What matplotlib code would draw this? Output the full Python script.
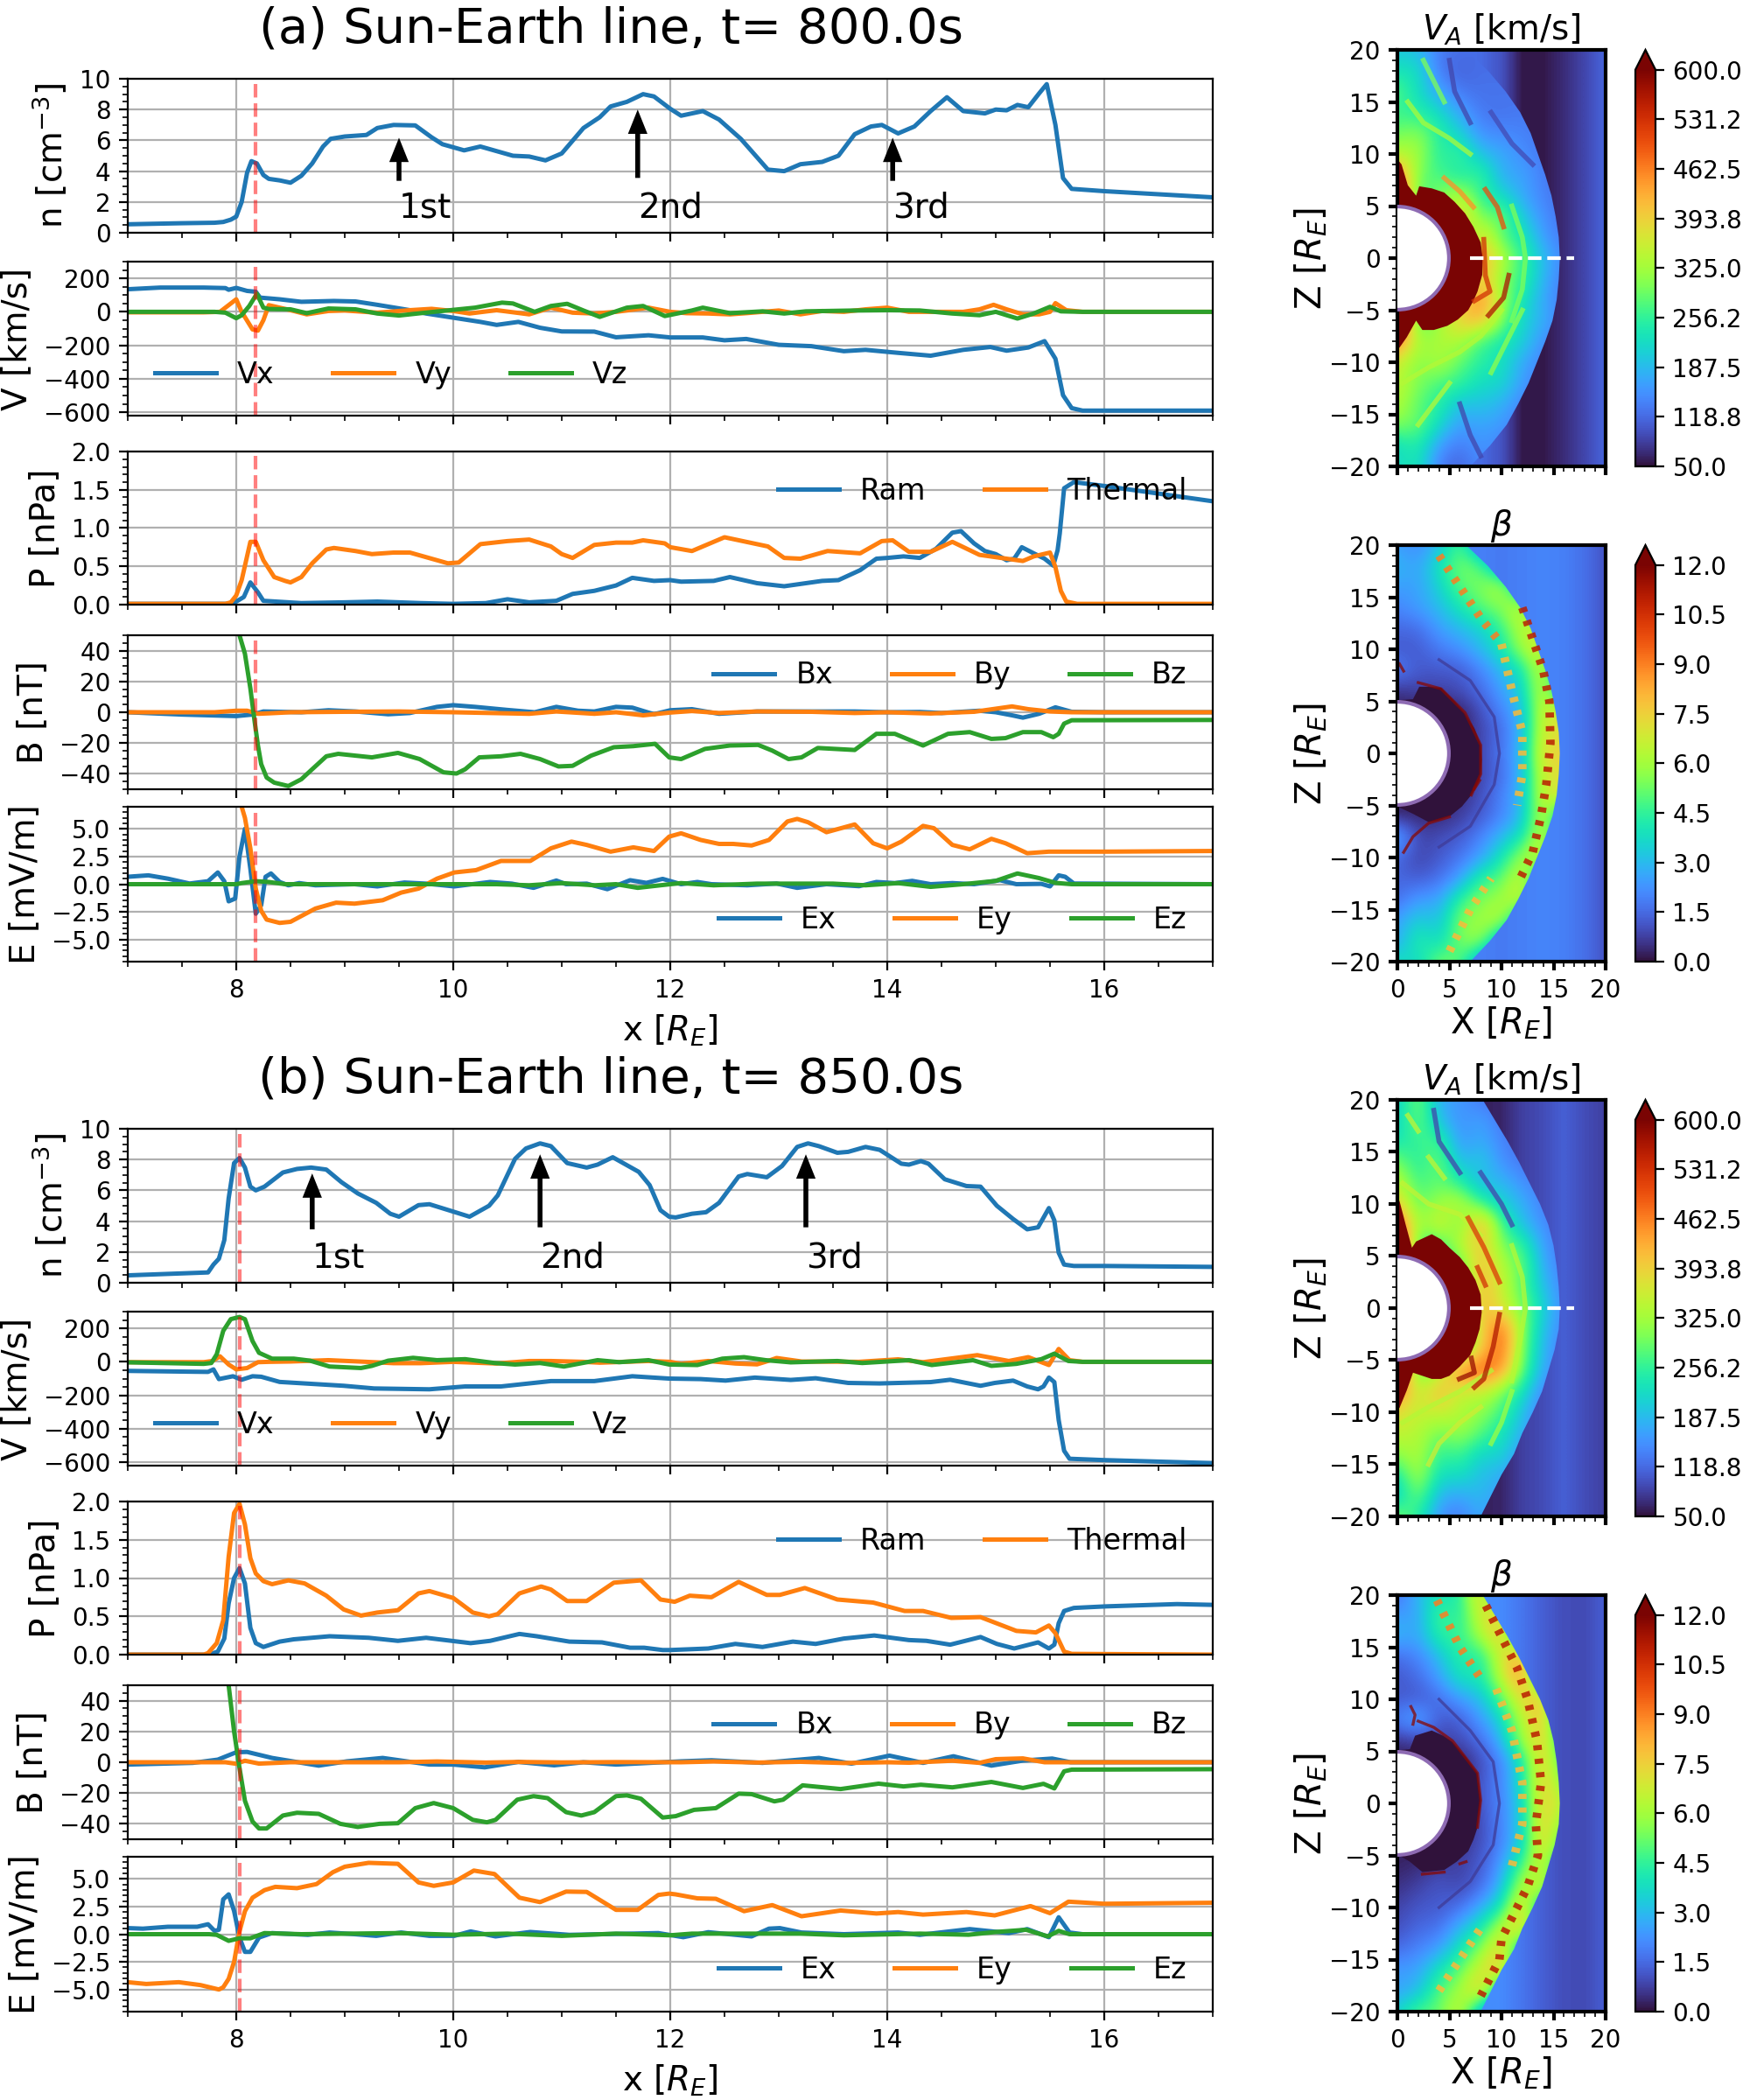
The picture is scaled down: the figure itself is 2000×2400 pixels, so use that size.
import matplotlib
matplotlib.use("Agg")
import matplotlib.pyplot as plt
from matplotlib.patches import Circle, Polygon
import numpy as np

W, H = 2000, 2400
PANEL_OFFSET = 1200

# ---- panel (a), t=800 s: (x, value) pairs
n_a = [(7,.55),(7.5,.62),(7.8,.65),(7.88,.7),(7.95,.85),(8,1.05),(8.05,2),(8.1,3.9),(8.14,4.65),(8.19,4.5),(8.25,3.75),(8.3,3.5),(8.4,3.4),(8.5,3.25),(8.6,3.7),(8.7,4.5),(8.8,5.6),(8.87,6.1),(9,6.25),(9.2,6.35),(9.3,6.8),(9.45,7),(9.65,6.97),(9.8,6.2),(9.9,5.75),(10.1,5.35),(10.25,5.6),(10.4,5.3),(10.55,5),(10.7,4.95),(10.85,4.7),(11,5.15),(11.2,6.8),(11.35,7.5),(11.45,8.2),(11.6,8.5),(11.75,9),(11.85,8.85),(12,8.05),(12.1,7.6),(12.3,7.9),(12.45,7.35),(12.65,6.1),(12.8,4.9),(12.9,4.1),(13.05,4),(13.2,4.45),(13.4,4.6),(13.55,5),(13.7,6.4),(13.85,6.9),(13.95,7),(14.1,6.45),(14.25,6.9),(14.4,7.9),(14.55,8.8),(14.7,7.9),(14.9,7.75),(15,8),(15.1,7.95),(15.2,8.3),(15.3,8.15),(15.4,9.05),(15.47,9.65),(15.55,7),(15.62,3.55),(15.7,2.85),(16,2.7),(17,2.3)]
vx_a = [(7,135),(7.3,145),(7.7,145),(7.9,142),(7.93,132),(8,143),(8.1,125),(8.18,120),(8.22,85),(8.4,75),(8.6,60),(8.9,65),(9.1,62),(9.3,42),(9.6,10),(9.75,-10),(10.1,-45),(10.25,-60),(10.4,-78),(10.6,-60),(10.8,-95),(11,-117),(11.3,-118),(11.5,-152),(11.8,-140),(12,-153),(12.3,-153),(12.5,-170),(12.7,-162),(13,-197),(13.3,-205),(13.6,-235),(13.8,-227),(14.1,-245),(14.4,-262),(14.7,-227),(14.95,-210),(15.1,-232),(15.3,-213),(15.45,-175),(15.55,-280),(15.62,-498),(15.7,-575),(15.8,-590),(17,-590)]
vy_a = [(7,-3),(7.7,-3),(7.85,0),(7.93,40),(8,75),(8.05,0),(8.15,-105),(8.2,-112),(8.25,-50),(8.3,40),(8.4,25),(8.5,10),(8.65,-15),(8.85,5),(9,8),(9.3,-5),(9.6,10),(9.8,18),(10,5),(10.15,-10),(10.4,10),(10.7,-15),(10.9,25),(11.1,-5),(11.3,-10),(11.5,0),(11.8,25),(12,0),(12.15,-8),(12.35,-10),(12.55,-15),(12.7,-8),(13,8),(13.2,-15),(13.4,5),(13.6,0),(13.8,15),(14,25),(14.2,0),(14.5,0),(14.7,0),(14.85,15),(14.98,42),(15.1,15),(15.25,-15),(15.4,-15),(15.5,0),(15.55,52),(15.65,10),(15.8,0),(17,0)]
vz_a = [(7,0),(7.8,0),(7.9,-5),(8,-38),(8.05,-20),(8.12,35),(8.19,108),(8.25,25),(8.3,17),(8.5,15),(8.65,-8),(8.85,20),(9.1,15),(9.3,-10),(9.5,-22),(9.7,-8),(10.2,25),(10.45,55),(10.55,50),(10.75,0),(10.9,35),(11.05,48),(11.2,8),(11.35,-30),(11.6,25),(11.75,35),(11.95,-25),(12.2,8),(12.3,25),(12.55,-8),(12.85,3),(13.05,-10),(13.25,3),(13.7,8),(14,10),(14.3,8),(14.6,-10),(14.85,-20),(15,0),(15.2,-40),(15.35,-10),(15.5,30),(15.6,3),(15.8,0),(17,0)]
ram_a = [(7,.01),(7.95,.01),(8,.04),(8.07,.1),(8.13,.29),(8.2,.16),(8.25,.05),(8.6,.02),(9,.03),(9.3,.04),(9.7,.02),(10,.01),(10.3,.02),(10.5,.07),(10.7,.03),(10.95,.05),(11.1,.14),(11.3,.18),(11.5,.25),(11.65,.35),(11.85,.31),(12,.32),(12.1,.3),(12.4,.31),(12.55,.36),(12.8,.28),(13.05,.24),(13.4,.31),(13.55,.32),(13.75,.45),(13.9,.6),(14,.61),(14.15,.63),(14.3,.61),(14.45,.73),(14.6,.94),(14.68,.96),(14.8,.8),(14.9,.7),(15,.66),(15.1,.58),(15.17,.6),(15.24,.75),(15.35,.67),(15.45,.6),(15.53,.51),(15.57,.71),(15.59,.93),(15.63,1.52),(15.72,1.6),(16,1.55),(17,1.35)]
thermal_a = [(7,.01),(7.9,.01),(7.95,.03),(8,.12),(8.05,.32),(8.13,.82),(8.18,.82),(8.25,.58),(8.35,.36),(8.45,.31),(8.5,.29),(8.6,.36),(8.7,.54),(8.83,.72),(8.9,.74),(9.1,.7),(9.25,.66),(9.45,.68),(9.6,.68),(9.8,.6),(9.95,.54),(10.05,.55),(10.25,.79),(10.5,.83),(10.7,.85),(10.9,.76),(11,.66),(11.1,.61),(11.3,.78),(11.5,.81),(11.65,.81),(11.75,.84),(11.95,.8),(12,.75),(12.2,.7),(12.5,.88),(12.7,.82),(12.9,.76),(13.05,.61),(13.2,.6),(13.45,.7),(13.75,.67),(13.95,.83),(14.05,.84),(14.2,.69),(14.4,.69),(14.6,.82),(14.85,.65),(15,.62),(15.25,.57),(15.35,.63),(15.5,.68),(15.55,.49),(15.6,.18),(15.65,.04),(15.75,.01),(17,.01)]
bx_a = [(7,0),(7.5,-1.5),(8,-2.5),(8.15,-1.5),(8.25,.5),(8.6,0),(8.85,1.3),(9.1,.5),(9.4,-1.3),(9.6,-.5),(9.85,3.5),(10,4.6),(10.2,3.5),(10.5,1.5),(10.75,0),(10.95,3.5),(11.15,1),(11.3,.5),(11.5,3.5),(11.65,3),(11.85,-1.3),(12,1.3),(12.2,2),(12.45,-1),(12.8,.5),(13.3,.5),(13.7,.5),(14,0),(14.3,.2),(14.5,-.5),(14.85,1),(15,0),(15.15,-2),(15.25,-3.5),(15.4,-1),(15.55,3.2),(15.7,.3),(16,0),(17,0)]
by_a = [(7,0),(7.8,0),(8,1),(8.1,1),(8.2,-1),(8.3,-.7),(8.5,0),(9,.3),(9.5,.5),(10,0),(10.7,-1),(10.95,.5),(11.3,-1),(11.5,0),(11.75,-2),(12,-.2),(12.2,.8),(12.45,-.5),(12.8,.5),(13.3,.3),(13.7,-.5),(14,0),(14.4,-.8),(14.8,.3),(15.15,3.8),(15.3,2),(15.5,.5),(15.7,0),(17,0)]
bz_a = [(8.03,50),(8.08,38),(8.13,15.5),(8.17,-6.3),(8.2,-21.6),(8.23,-33.7),(8.28,-42.4),(8.35,-45.7),(8.48,-47.9),(8.6,-43.5),(8.7,-37),(8.83,-28.6),(8.94,-27),(9.25,-29.3),(9.49,-26.4),(9.69,-30.4),(9.91,-39),(10.03,-39.8),(10.11,-37),(10.24,-29.3),(10.44,-28.6),(10.62,-27),(10.8,-30.4),(10.97,-35.2),(11.1,-34.8),(11.27,-28.2),(11.48,-22.7),(11.66,-22),(11.86,-20.5),(11.99,-29.3),(12.1,-30.4),(12.32,-23.8),(12.55,-21.6),(12.81,-21.2),(12.94,-24.9),(13.09,-30.4),(13.21,-29.3),(13.36,-23.2),(13.7,-24.5),(13.9,-14),(14.07,-14),(14.33,-21.6),(14.56,-14),(14.76,-12.9),(14.96,-17.3),(15.09,-16.8),(15.25,-12.9),(15.42,-12.9),(15.53,-16.2),(15.58,-14),(15.63,-7.4),(15.7,-5.2),(17,-5)]
ex_a = [(7,.67),(7.19,.8),(7.37,.5),(7.57,.06),(7.74,.27),(7.83,1.06),(7.89,.27),(7.93,-1.55),(7.99,-1.3),(8.03,2.5),(8.08,5),(8.13,1.4),(8.18,-2.67),(8.23,-1.9),(8.27,.67),(8.32,.97),(8.4,.2),(8.48,-.1),(8.58,.1),(8.73,-.1),(9.09,0),(9.3,-.2),(9.55,.15),(9.75,.05),(10.01,-.2),(10.34,.2),(10.54,.05),(10.74,-.33),(10.95,.33),(11.04,0),(11.23,.05),(11.42,-.45),(11.63,.36),(11.78,.12),(11.93,.48),(12.1,0),(12.25,.2),(12.38,0),(12.71,-.1),(12.98,.06),(13.17,-.33),(13.44,0),(13.74,-.18),(13.9,.2),(14.07,.1),(14.23,.3),(14.4,0),(14.6,.1),(14.8,0),(15.04,.36),(15.19,0),(15.42,.03),(15.5,-.2),(15.58,.8),(15.64,.67),(15.72,.06),(17,0)]
ey_a = [(8.05,7),(8.08,6),(8.13,3.24),(8.18,-.4),(8.23,-2.4),(8.28,-3.2),(8.4,-3.5),(8.5,-3.4),(8.73,-2.2),(8.92,-1.67),(9.09,-1.76),(9.35,-1.45),(9.52,-.76),(9.68,-.4),(9.85,.5),(10.01,1.06),(10.21,1.27),(10.44,2.1),(10.71,2.1),(10.9,3.24),(11.09,3.85),(11.23,3.55),(11.45,2.94),(11.66,3.33),(11.85,3),(11.99,4.3),(12.1,4.6),(12.28,4),(12.45,3.64),(12.58,3.64),(12.75,3.5),(12.91,4),(13.08,5.67),(13.17,5.9),(13.27,5.6),(13.44,4.7),(13.7,5.4),(13.87,3.7),(14,3.24),(14.13,3.85),(14.33,5.27),(14.43,5.06),(14.6,3.55),(14.76,3.15),(14.96,4.1),(15.09,3.7),(15.29,2.8),(15.49,2.94),(16,2.94),(17,3)]
ez_a = [(7,0),(8,0),(8.05,.1),(8.18,.27),(8.3,.2),(8.45,0),(10.4,0),(10.7,-.1),(11,.1),(11.3,-.1),(11.5,0),(11.7,-.33),(12,0),(12.1,.1),(12.4,-.1),(12.8,.05),(13.5,.05),(13.8,-.1),(14.1,.1),(14.4,-.24),(14.7,0),(15,.3),(15.2,.97),(15.4,.55),(15.55,.12),(15.7,0),(17,0)]

# ---- panel (b), t=850 s
n_b = [(7,.48),(7.74,.67),(7.79,1.18),(7.84,1.56),(7.89,2.77),(7.93,5.48),(7.98,7.77),(8.03,8.1),(8.08,7.48),(8.13,6.24),(8.18,6),(8.26,6.24),(8.43,7.16),(8.56,7.39),(8.69,7.48),(8.83,7.35),(8.97,6.53),(9.12,5.8),(9.29,5.19),(9.42,4.48),(9.5,4.29),(9.68,5.04),(9.78,5.1),(10,4.62),(10.15,4.29),(10.33,5),(10.41,5.67),(10.57,8.05),(10.67,8.72),(10.8,9.05),(10.9,8.87),(11.05,7.77),(11.23,7.48),(11.33,7.67),(11.47,8.15),(11.71,7.2),(11.81,6.34),(11.91,4.71),(11.99,4.29),(12.05,4.24),(12.2,4.48),(12.33,4.58),(12.45,5.19),(12.63,6.9),(12.71,7.06),(12.89,6.85),(13.03,7.58),(13.17,8.82),(13.27,9.05),(13.37,8.87),(13.54,8.44),(13.64,8.5),(13.8,8.82),(13.93,8.63),(14.13,7.73),(14.2,7.67),(14.31,7.9),(14.38,7.73),(14.53,6.72),(14.73,6.28),(14.86,6.24),(15.01,5),(15.16,4.14),(15.29,3.47),(15.39,3.6),(15.49,4.85),(15.54,4.05),(15.58,1.95),(15.63,1.18),(15.72,1.09),(16,1.09),(17,1.03)]
vx_b = [(7,-54),(7.6,-59),(7.74,-60),(7.79,-45),(7.84,-103),(7.97,-86),(8.05,-107),(8.15,-86),(8.23,-89),(8.4,-120),(8.99,-143),(9.27,-159),(9.78,-164),(10.11,-147),(10.44,-147),(10.9,-115),(11.3,-115),(11.65,-86),(11.99,-100),(12.28,-103),(12.51,-112),(12.78,-94),(13.11,-108),(13.34,-98),(13.64,-126),(13.93,-129),(14.4,-121),(14.58,-107),(14.86,-143),(14.99,-126),(15.16,-112),(15.29,-147),(15.39,-164),(15.44,-147),(15.49,-94),(15.54,-121),(15.58,-348),(15.63,-531),(15.68,-579),(16,-587),(17,-605)]
vy_b = [(7,-2),(7.7,-2),(7.78,5),(7.85,33),(7.93,-16),(8,-45),(8.1,-37),(8.2,-2),(8.3,0),(8.5,2),(8.85,10),(9.2,0),(9.45,-8),(9.7,-8),(10,0),(10.4,-10),(10.7,5),(10.9,5),(11.2,0),(11.35,-5),(11.8,5),(12,0),(12.1,-12),(12.35,5),(12.6,-10),(12.8,-15),(12.9,5),(12.98,23),(13.21,2),(13.74,0),(14.1,15),(14.33,-2),(14.83,40),(15.12,5),(15.3,28),(15.49,-19),(15.58,77),(15.68,10),(15.8,0),(17,0)]
vz_b = [(7,-3),(7.7,-12),(7.77,-7),(7.82,45),(7.88,185),(7.95,255),(8.03,268),(8.08,255),(8.15,124),(8.21,54),(8.33,19),(8.53,19),(8.68,7),(8.86,-28),(9.15,-37),(9.25,-24),(9.4,7),(9.63,24),(9.85,10),(10.11,16),(10.38,-7),(10.57,-16),(10.8,-7),(11.02,-28),(11.33,10),(11.53,-2),(11.8,10),(11.99,-16),(12.25,-19),(12.48,19),(12.68,28),(12.88,10),(13.11,-3),(13.54,5),(13.77,-7),(14.2,10),(14.41,-19),(14.79,10),(14.96,-24),(15.19,-12),(15.42,16),(15.54,49),(15.67,5),(15.8,0),(17,0)]
ram_b = [(7,0),(7.75,0),(7.83,.04),(7.89,.21),(7.93,.67),(7.98,1),(8.03,1.13),(8.08,.93),(8.13,.35),(8.18,.15),(8.25,.1),(8.4,.17),(8.53,.2),(8.86,.24),(9.22,.22),(9.49,.18),(9.75,.22),(10.16,.15),(10.34,.18),(10.61,.27),(10.77,.24),(11.07,.17),(11.37,.16),(11.63,.09),(11.76,.09),(11.93,.06),(12,.06),(12.35,.08),(12.6,.14),(12.85,.1),(13.13,.17),(13.34,.14),(13.6,.21),(13.88,.25),(14.2,.19),(14.36,.18),(14.58,.13),(14.86,.23),(15.01,.14),(15.17,.08),(15.39,.16),(15.49,.08),(15.54,.13),(15.58,.41),(15.63,.57),(15.72,.61),(16.01,.63),(16.67,.66),(17,.65)]
thermal_b = [(7,0),(7.7,0),(7.74,.02),(7.82,.15),(7.88,.45),(7.93,1.28),(7.98,1.85),(8.03,1.97),(8.08,1.7),(8.13,1.26),(8.18,1.06),(8.25,.96),(8.33,.92),(8.48,.97),(8.63,.93),(8.83,.77),(8.99,.59),(9.15,.51),(9.3,.55),(9.49,.58),(9.68,.8),(9.78,.83),(10,.74),(10.18,.55),(10.33,.5),(10.41,.53),(10.61,.8),(10.81,.89),(10.9,.85),(11.05,.7),(11.23,.7),(11.48,.94),(11.73,.97),(11.91,.72),(12,.7),(12.04,.69),(12.18,.77),(12.38,.75),(12.63,.95),(12.89,.78),(13.01,.78),(13.24,.87),(13.54,.72),(13.87,.68),(14.16,.57),(14.33,.57),(14.59,.48),(14.86,.49),(15.19,.31),(15.37,.29),(15.49,.38),(15.55,.28),(15.63,.04),(15.7,.01),(17,0)]
bx_b = [(7,-1.5),(7.6,-.4),(7.83,1.7),(8,6.5),(8.1,6.7),(8.33,2.8),(8.76,-2.2),(9.02,.6),(9.35,2.8),(9.78,-1.5),(10,-1.5),(10.29,-3.3),(10.6,.2),(10.93,-2),(11.2,0),(11.5,-1.5),(12.1,.6),(12.38,1.3),(12.85,-.4),(13.37,2.8),(13.67,-.9),(14.02,4.3),(14.33,-.4),(14.61,3.9),(14.96,-2.2),(15.25,1.1),(15.52,2.4),(15.69,0),(17,0)]
by_b = [(7,0),(7.9,0),(8,-1),(8.08,1),(8.21,-.9),(8.5,0),(9.5,0),(9.85,.5),(10.3,-.2),(10.6,.2),(11,-.1),(11.5,.1),(12.1,0),(12.4,.5),(12.8,-.2),(13.2,.3),(13.6,-.5),(14,0),(14.2,-.3),(14.6,1),(14.85,-.4),(15,2),(15.25,2.5),(15.45,0),(17,0)]
bz_b = [(7.93,50),(7.98,20),(8.03,-3.7),(8.08,-25),(8.15,-38.5),(8.21,-43),(8.28,-43),(8.43,-34.6),(8.56,-32.8),(8.76,-33.5),(8.96,-40),(9.12,-42),(9.32,-40),(9.49,-39.6),(9.65,-29.8),(9.82,-26.5),(10,-29.8),(10.18,-37.4),(10.31,-39),(10.39,-37.4),(10.59,-24.3),(10.74,-22),(10.87,-23.3),(11.04,-32.4),(11.18,-34.6),(11.3,-32.4),(11.5,-22),(11.6,-21.5),(11.73,-23.7),(11.93,-35.9),(12.05,-35),(12.22,-30.9),(12.42,-29.8),(12.63,-20.4),(12.75,-20.7),(12.96,-25.4),(13.04,-24.3),(13.22,-15),(13.57,-17.4),(13.92,-13.9),(14.15,-15.7),(14.31,-14.6),(14.6,-16.3),(14.96,-12.8),(15.25,-16.7),(15.44,-14),(15.54,-17),(15.63,-5.9),(15.7,-4.8),(17,-4.5)]
ex_b = [(7,.55),(7.14,.5),(7.37,.67),(7.64,.67),(7.74,.9),(7.8,.3),(7.84,.4),(7.88,3.15),(7.93,3.6),(7.98,2.1),(8.03,-.3),(8.08,-1.6),(8.13,-1.6),(8.21,-.3),(8.33,.1),(8.66,-.06),(8.86,.15),(9.09,0),(9.29,-.15),(9.52,.15),(9.78,-.15),(10.01,-.15),(10.16,.25),(10.39,-.2),(10.71,.2),(11.07,-.06),(11.89,.1),(12.12,-.27),(12.35,.18),(12.75,-.2),(12.91,.5),(13.01,.55),(13.21,.15),(13.6,0),(14.1,.15),(14.3,-.06),(14.76,.46),(15.12,.1),(15.29,.46),(15.49,-.27),(15.58,1.53),(15.68,.15),(15.8,0),(17,0)]
ey_b = [(7,-4.34),(7.17,-4.5),(7.47,-4.34),(7.67,-4.6),(7.84,-5),(7.88,-4.8),(7.93,-4.04),(7.98,-2.5),(8.03,.25),(8.08,2.08),(8.15,3.3),(8.26,3.98),(8.36,4.28),(8.56,4.16),(8.74,4.53),(8.89,5.6),(9,6.1),(9.22,6.45),(9.49,6.36),(9.68,4.68),(9.82,4.37),(10,4.68),(10.19,5.75),(10.38,5.44),(10.61,3.3),(10.8,2.9),(11.04,3.85),(11.23,3.82),(11.5,2.2),(11.7,2.2),(11.89,3.55),(11.99,3.67),(12.05,3.6),(12.25,3.24),(12.42,3.2),(12.68,2.08),(12.94,2.63),(13.21,1.62),(13.57,2.14),(13.9,1.87),(14.1,2),(14.33,1.77),(14.73,2),(14.99,1.7),(15.32,2.54),(15.5,1.9),(15.67,2.94),(16,2.75),(17,2.84)]
ez_b = [(7,0),(7.75,0),(7.82,-.06),(7.93,-.6),(8.03,-.37),(8.13,-.37),(8.26,.1),(8.6,0),(9.5,.1),(10,-.05),(10.5,.05),(11,-.15),(11.5,.05),(12,-.1),(12.2,.05),(13.2,.05),(13.6,-.1),(14.3,.05),(14.75,-.05),(15,.2),(15.28,.4),(15.48,-.2),(15.58,.3),(15.68,0),(17,0)]

shock_x = {"a": 8.18, "b": 8.03}
arrows_a = [(9.5, 6.17, 3.37, "1st"), (11.7, 8.0, 3.56, "2nd"), (14.05, 6.17, 3.37, "3rd")]
arrows_b = [(8.7, 7.1, 3.47, "1st"), (10.8, 8.34, 3.6, "2nd"), (13.25, 8.34, 3.6, "3rd")]

va_a = [[200,190,130,125,120,120,120,120,120],[230,230,130,110,125,120,120,120,120],[280,220,170,130,125,130,125,120,120],[260,250,220,170,130,125,135,125,120],[290,310,250,210,150,145,140,130,120],[340,330,240,270,190,175,150,130,120],[480,290,270,230,270,170,170,135,120],[560,250,310,340,250,220,170,140,120],[600,250,250,440,280,300,200,150,125],[600,250,250,250,400,270,240,160,130],[600,250,250,250,450,340,260,190,140],[600,250,250,250,430,300,260,180,130],[600,250,250,380,470,330,230,170,130],[600,250,330,400,420,300,210,180,130],[480,320,330,340,260,240,210,150,125],[360,300,340,280,250,230,170,140,125],[350,300,270,260,220,220,160,130,120],[340,280,250,190,200,180,140,125,120],[300,290,220,160,170,160,130,120,120],[220,250,160,130,160,140,125,120,120],[220,240,130,110,150,130,120,120,120]]
va_b = [[200,310,170,160,130,120,120,120,120],[210,300,190,150,170,130,120,120,120],[230,260,270,150,180,140,125,120,120],[300,240,300,180,210,150,130,125,120],[350,260,290,250,180,190,150,135,120],[400,280,320,350,260,210,180,135,120],[520,300,380,280,450,260,190,150,125],[600,250,250,350,400,300,260,160,130],[600,250,250,250,440,330,290,170,135],[600,250,250,250,420,360,270,190,140],[600,250,250,250,430,360,300,210,140],[600,250,250,250,380,500,300,190,140],[600,250,250,250,400,500,290,180,130],[600,250,330,480,500,450,280,170,130],[480,340,430,340,360,300,230,140,125],[380,350,360,340,310,270,190,130,125],[350,340,290,320,280,230,180,125,120],[310,340,250,270,210,220,150,125,120],[230,340,220,230,190,180,130,120,120],[200,300,180,170,190,160,125,120,120],[300,250,150,130,180,130,120,120,120]]
beta_a = [[2.5,2,3,5,2,2,2,2,2],[3,2.5,4,5.5,5,2,2,2,2],[2.5,2.5,3.5,5,5.5,6.5,2,2,2],[2,2.5,3,4,5,5.5,7,2,2],[1.5,1.5,2.5,3,3.5,4.5,6.5,7,2],[1.2,1.2,1.8,2.2,3,4,6,7,2],[2,1.2,1.2,1.2,2,3,4,7,2],[.5,.8,.8,1,1.5,2.5,3.5,7,2],[.2,.2,.2,.2,1,2,3,7,7],[.2,.2,.2,.2,.9,1.5,3,7,7],[.2,.2,.2,.2,.9,1.8,3,7.5,7.5],[.2,.2,.2,.2,.9,1.5,3,7,7],[.2,.2,.2,.5,1,2,3,7,7],[.3,.4,.4,.7,1.2,2,3,7,2],[3,.8,1,1.2,2,3,4,7,2],[1.5,.8,1.2,1.7,2.5,4,6,7,2],[1.5,1.2,1.6,2.5,4.5,5,7,2,2],[1.5,2.5,2.5,4.5,5.5,6,7,2,2],[2.5,3.5,3,5.5,6,6.5,2,2,2],[2.5,4.5,3.5,5.5,6,2,2,2,2],[4,3.5,5.5,5,2,2,2,2,2]]
beta_b = [[1.5,3,4,4,8,2,2,2,2],[2.5,2.5,5,4,7,8,2,2,2],[3,2.5,4.5,4.5,6,8,2,2,2],[1.5,2,3,4.5,4,7,9,2,2],[1.2,1.5,2.5,4,4,6.5,9,2,2],[1.2,1.2,1.5,2.5,3,5,7.5,8,2],[2,3,1.2,1.2,2.5,3.5,6.5,8,2],[.5,.8,.8,1,1.5,3,6,8,3],[.2,.2,.2,.2,1,2,4,8,4],[.2,.2,.2,.2,1.2,2,4,8,5],[.2,.2,.2,.2,1.2,2,3.5,8,6],[.2,.2,.2,.2,1,2,3.5,8,5],[.2,.2,.2,.6,1,2,3.5,8,4],[.3,.4,.8,.8,1.2,2.5,5,7,2],[.5,.8,1.2,.8,1.5,3,6.5,7,2],[.8,1.2,1.2,1.6,2.8,4,8,2,2],[1,1.5,1.6,3,4,6.5,8,2,2],[1.5,2,2.5,4,5.5,8,2,2,2],[2.5,2.5,4,5,7,8,2,2,2],[2.5,3,5,6,8,2,2,2,2],[3.5,5,5,7,2,2,2,2,2]]

# solar wind side, columns x=0,2..22
wind_va_a = [120,120,120,125,120,100,55,55,70,90,115,115]
wind_va_b = [60,60,60,60,60,65,85,95,110,95,85,85]
wind_beta_a = [1.9,1.9,1.9,1.9,1.9,1.8,1.9,2,1.9,1.6,1.1,1.1]
wind_beta_b = [2.2,2.2,2.2,2.2,2.2,2.1,1.7,1.3,1,.95,1.3,1.3]

shock_a = [(-1,21),(6,21),(6.6,20),(8.7,18),(10.4,16),(11.8,14),(12.8,12),(13.5,10),(14.2,8),(14.8,6),(15.2,4),(15.5,2),(15.6,0),(15.5,-2),(15.3,-4),(14.9,-6),(14.2,-8),(13.4,-10),(12.6,-12),(11.6,-14),(10.5,-16),(8.9,-18),(7,-20),(6,-21),(-1,-21)]
shock_b = [(-1,21),(7.6,21),(8.2,20),(9.4,18),(10.6,16),(11.7,14),(12.7,12),(13.7,10),(14.5,8),(15,6),(15.3,4),(15.5,2),(15.6,0),(15.5,-2),(15.1,-4),(14.5,-6),(13.9,-8),(13,-10),(12,-12),(11.2,-14),(10,-16),(9,-18),(8,-20),(7.5,-21),(-1,-21)]
mp_va_a = [(0,9.5),(.4,9),(1,7),(1.8,6),(2.1,6.9),(3.3,6.7),(4.5,6.3),(5.5,5.4),(6.5,4.3),(7.3,3),(8,1.5),(8.2,0),(8.15,-1.6),(7.7,-3.2),(7.3,-4.1),(6.8,-5),(5.8,-5.9),(4.8,-6.5),(3.5,-6.9),(2.4,-6.9),(1.8,-6),(.9,-7.6),(.2,-8.6),(0,-8.6)]
mp_va_b = [(0,10.3),(.2,10.3),(.8,8),(1.4,5.8),(1.8,6.4),(3.3,7.1),(4.2,6.6),(5,5.8),(6,4.9),(6.8,3.9),(7.5,2.7),(8,1.3),(8.1,-.4),(7.9,-2),(7.5,-3.3),(7,-4.5),(6,-5.6),(5,-6.5),(4.2,-6.8),(3.3,-6.8),(1.5,-6.2),(.9,-7.9),(.2,-9.6),(0,-9.6)]
mp_beta_a = [(0,5.1),(1.5,5.2),(2.1,6.4),(3.2,6.4),(4.2,6.3),(5.5,5),(6.5,3.8),(7.4,2.4),(8,.8),(8.1,-.6),(8,-2),(7.6,-3.1),(7.1,-4),(6.2,-5.1),(5.1,-6),(4,-6.4),(3,-6.6),(1.5,-5.8),(0,-5.1)]
mp_beta_b = [(0,5.1),(1.2,5.2),(1.7,6.5),(3.3,7),(4.4,6.5),(5.3,5.9),(6.6,4.4),(7.7,2.9),(8,.3),(7.7,-2.3),(7.3,-3.5),(6.8,-4.6),(5.7,-5.6),(4.5,-6.4),(2.4,-6.6),(1.2,-5.6),(0,-4.9)]

# streaks of the maps: (value, [(x, z), ...])
streaks_va_a = [(330,[(1,15),(2.5,13),(5,11.5),(7,10)]),(300,[(2.5,19),(3.5,17),(4.5,15)]),(90,[(5,19),(5.5,16),(7,13)]),(90,[(6,-14),(7,-17),(8,-19)]),(95,[(9,14),(11,11),(13,9)]),(340,[(.5,-12),(3,-10.5),(6,-9),(8,-7.5),(10,-5)]),(340,[(2,-16),(3.5,-14),(5,-12)]),(300,[(11,5),(12,2),(12.3,0),(12,-3),(11,-6)]),(310,[(9,-11),(10.5,-8),(12,-5)]),
	(500,[(8.45,6.6),(9.6,4.9),(10.2,3)]),(565,[(10.7,-1.65),(10.2,-3.8),(8.75,-5.5)]),(530,[(8.3,1.8),(8.45,-1.65),(8.9,-3.2),(7.4,-4.1)]),(450,[(4.5,7.7),(6,6.4),(7.3,4.9)])]
streaks_va_b = [(350,[(1,18.5),(2,17)]),(350,[(3,14.5),(4.5,12.5)]),(90,[(3.5,19),(4,16),(6,13)]),(350,[(.5,12),(3,10),(6,9),(8,7)]),(340,[(11,6),(12,3),(12.3,0),(11.8,-3),(11,-7)]),(340,[(.5,-11),(3,-9.5),(6,-8),(9,-6)]),(360,[(3,-15),(4,-13),(6,-11),(8,-9.5)]),(90,[(8,13),(10,10),(11,8)]),(320,[(9,-13),(10,-11),(11,-8)]),
	(520,[(6.8,8.65),(8.3,5.85),(9.8,2.5)]),(530,[(7.7,3.9),(8.45,2.2)]),(560,[(9.8,-.6),(9.2,-3.7),(8.3,-6.8),(7.4,-7.6)]),(580,[(7.1,-4.8),(7.4,-6.2),(5.95,-6.8)])]
streaks_beta_a = [(.7,[(4,9),(7,7),(9.3,3.5),(9.8,0),(9.3,-3),(7,-7),(4,-9)]),(11.8,[(2,6.8),(4.2,6.2),(6.5,3.9),(8,.8),(8,-2),(7.1,-4)]),(11.8,[(5,-6.1),(3,-6.7),(1.5,-8),(.6,-9.5)]),(11.8,[(.2,8.6),(.6,7.9)]),(11.8,[(7.4,-3.4),(7.9,-2.6)])]
streaks_beta_b = [(.7,[(4,10),(7,7),(9.2,4),(9.8,0),(9.2,-4),(7,-7.5),(4,-10)]),(11.8,[(2,7.9),(3.5,7.3),(5.3,6),(7.7,2.9),(8,.3),(7.7,-2.3)]),(11.8,[(2.4,-6.8),(4.5,-6.6)]),(11.8,[(1.3,9.3),(1.7,8.5),(1.5,7.6)]),(11.8,[(6,-5.8),(6.6,-5.6)])]
bands_beta_a = [(11,[(12,14),(13,11),(14,8),(14.6,5),(14.7,1),(14.3,-3),(13.8,-6),(13,-9.5),(11.8,-12)]),(8,[(10,10.5),(11,6),(12,2),(12,-2),(11.5,-5)]),(9,[(4,19),(6,16),(8,13),(10,10.5)]),(8,[(5,-19),(7,-15),(9,-12)])]
bands_beta_b = [(11,[(8.5,19),(10,16),(11.5,13),(12.5,10),(13.4,6),(13.8,2),(13.3,-2),(13.5,-5),(12.5,-8),(11,-11),(10,-13),(9.8,-15),(8,-18.5)]),(8,[(9.5,11),(11,7),(12,2),(12,-2),(11,-6)]),(9,[(3.8,19.5),(6,15),(8,12)]),(8,[(4,-18),(6,-15),(8,-12)])]

BLUE, ORANGE, GREEN = "tab:blue", "tab:orange", "tab:green"


def add_ax(fig, left, top, right, bottom):
	return fig.add_axes([left/W, 1-bottom/H, (right-left)/W, (bottom-top)/H])


def curve(ax, pairs, color, label):
	p = np.array(pairs)
	ax.plot(p[:, 0], p[:, 1], color=color, lw=1.8, label=label)


def legend(ax, ncol, x, y, loc):
	ax.legend(ncol=ncol, frameon=False, fontsize=12, handlelength=2.1, handletextpad=.72,
		columnspacing=2.0, borderpad=0, borderaxespad=0, loc=loc, bbox_to_anchor=(x, y))


def style_line_ax(ax, ylim, major, minor, ylabel, xshock, show_x=False):
	ax.set_xlim(7, 17)
	ax.set_ylim(*ylim)
	ax.set_xticks(np.arange(8, 17, 2))
	ax.set_xticks(np.arange(7, 17.01, .5), minor=True)
	ax.set_yticks(major)
	ax.set_yticks(minor, minor=True)
	ax.grid(True, which="major", color="#b0b0b0", lw=.8)
	ax.tick_params(labelsize=10)
	if not show_x:
		ax.set_xticklabels([])
	ax.set_ylabel(ylabel, fontsize=14)
	ax.axvline(xshock, color="red", alpha=.5, ls="--", lw=1.5)


def line_panels(fig, dy, d, tag, arrows):
	xs = shock_x[tag]

	ax = add_ax(fig, 146, 90+dy, 1386, 266+dy)
	curve(ax, d["n"], BLUE, None)
	style_line_ax(ax, (0, 10), np.arange(0, 11, 2), np.arange(0, 10.1, .5), "n [cm$^{-3}$]", xs)
	for x, tip, tail, name in arrows:
		ax.annotate("", xy=(x, tip), xytext=(x, tail),
			arrowprops=dict(facecolor="k", edgecolor="k", width=2, headwidth=8, headlength=10, shrink=0, lw=0))
		ax.text(x, 1, name, fontsize=14, va="baseline")

	ax = add_ax(fig, 146, 299+dy, 1386, 475+dy)
	curve(ax, d["vx"], BLUE, "Vx")
	curve(ax, d["vy"], ORANGE, "Vy")
	curve(ax, d["vz"], GREEN, "Vz")
	style_line_ax(ax, (-620, 300), np.arange(-600, 201, 200), np.arange(-600, 301, 50), "V [km/s]", xs)
	legend(ax, 3, .025, .265, "center left")

	ax = add_ax(fig, 146, 516+dy, 1386, 691+dy)
	curve(ax, d["ram"], BLUE, "Ram")
	curve(ax, d["thermal"], ORANGE, "Thermal")
	style_line_ax(ax, (0, 2), np.arange(0, 2.01, .5), np.arange(0, 2.01, .1), "P [nPa]", xs)
	legend(ax, 2, .976, .74, "center right")

	ax = add_ax(fig, 146, 726+dy, 1386, 902+dy)
	curve(ax, d["bx"], BLUE, "Bx")
	curve(ax, d["by"], ORANGE, "By")
	curve(ax, d["bz"], GREEN, "Bz")
	style_line_ax(ax, (-50, 50), np.arange(-40, 41, 20), np.arange(-50, 51, 5), "B [nT]", xs)
	legend(ax, 3, .976, .74, "center right")

	ax = add_ax(fig, 146, 922+dy, 1386, 1099+dy)
	curve(ax, d["ex"], BLUE, "Ex")
	curve(ax, d["ey"], ORANGE, "Ey")
	curve(ax, d["ez"], GREEN, "Ez")
	style_line_ax(ax, (-7, 7), np.arange(-5, 5.1, 2.5), np.arange(-7, 7.1, .5), "E [mV/m]", xs, show_x=True)
	ax.set_xlabel("x [$R_E$]", fontsize=14)
	legend(ax, 3, .976, .27, "center right")


def map_panel(fig, top, grid, wind, shock, mp, streaks, vmin, vmax, ticks, title, xlabel, bands=()):
	bottom = top+476
	turbo = plt.get_cmap("turbo")
	shade = lambda v: turbo((v-vmin)/(vmax-vmin))
	ax = add_ax(fig, 1597, top, 1835, bottom)
	cax = add_ax(fig, 1869, top, 1892, bottom)
	style = dict(cmap="turbo", vmin=vmin, vmax=vmax, aspect="auto", origin="upper")
	im = ax.imshow([wind], extent=(-1, 23, -20, 20), interpolation="bilinear", **style)
	sheath = ax.imshow(grid, extent=(-1, 17, -21, 21), interpolation="bicubic", **style)
	sheath.set_clip_path(Polygon(shock, transform=ax.transData))
	for val, pts in bands:
		p = np.array(pts)
		ax.plot(p[:, 0], p[:, 1], color=shade(val), lw=3.5, ls=(0, (.6, 1)), alpha=.85)
	ax.add_patch(Polygon(mp, closed=True, color=shade(vmax if vmax > 100 else vmin), lw=0))
	for val, pts in streaks:
		p = np.array(pts)
		ax.plot(p[:, 0], p[:, 1], color=shade(val), lw=2 if vmax > 100 else 1.2, alpha=.75)
	ax.add_patch(Circle((0, 0), 4.95, facecolor="white", edgecolor="#8e6bb3", lw=1.5, zorder=3))
	ax.set_xlim(0, 20)
	ax.set_ylim(-20, 20)
	ax.set_xticks(np.arange(0, 21, 5))
	ax.set_xticks(np.arange(0, 21, 1), minor=True)
	ax.set_yticks(np.arange(-20, 21, 5))
	ax.set_yticks(np.arange(-20, 21, 1), minor=True)
	ax.tick_params(labelsize=10)
	ax.tick_params(which="major", width=1.5, length=3.5)
	for s in ax.spines.values():
		s.set_linewidth(1.5)
	if xlabel:
		ax.set_xlabel("X [$R_E$]", fontsize=14.5, labelpad=1)
	else:
		ax.set_xticklabels([])
	ax.set_ylabel("Z [$R_E$]", fontsize=14.5, labelpad=0)
	ax.set_title(title, fontsize=14, pad=4)
	cb = fig.colorbar(im, cax=cax, extend="max", ticks=ticks, format="%.1f")
	cb.ax.tick_params(labelsize=10)
	return ax


data_a = dict(n=n_a, vx=vx_a, vy=vy_a, vz=vz_a, ram=ram_a, thermal=thermal_a, bx=bx_a, by=by_a, bz=bz_a, ex=ex_a, ey=ey_a, ez=ez_a)
data_b = dict(n=n_b, vx=vx_b, vy=vy_b, vz=vz_b, ram=ram_b, thermal=thermal_b, bx=bx_b, by=by_b, bz=bz_b, ex=ex_b, ey=ey_b, ez=ez_b)

fig = plt.figure(figsize=(W/200, H/200), dpi=200)

line_panels(fig, 0, data_a, "a", arrows_a)
line_panels(fig, PANEL_OFFSET, data_b, "b", arrows_b)

fig.text(698/W, 1-33/H, "(a) Sun-Earth line, t= 800.0s", fontsize=20.2, ha="center", va="center")
fig.text(698/W, 1-(33+PANEL_OFFSET)/H, "(b) Sun-Earth line, t= 850.0s", fontsize=20.2, ha="center", va="center")

va_ticks = np.linspace(50, 600, 9)
beta_ticks = np.linspace(0, 12, 9)
va_title = "$V_A$ [km/s]"
beta_title = r"$\beta$"

ax = map_panel(fig, 57, va_a, wind_va_a, shock_a, mp_va_a, streaks_va_a, 50, 600, va_ticks, va_title, False)
ax.plot([7, 17], [0, 0], color="white", ls="--", lw=1.5, zorder=4)
map_panel(fig, 623, beta_a, wind_beta_a, shock_a, mp_beta_a, streaks_beta_a, 0, 12, beta_ticks, beta_title, True, bands_beta_a)
ax = map_panel(fig, 57+PANEL_OFFSET, va_b, wind_va_b, shock_b, mp_va_b, streaks_va_b, 50, 600, va_ticks, va_title, False)
ax.plot([7, 17], [0, 0], color="white", ls="--", lw=1.5, zorder=4)
map_panel(fig, 623+PANEL_OFFSET, beta_b, wind_beta_b, shock_b, mp_beta_b, streaks_beta_b, 0, 12, beta_ticks, beta_title, True, bands_beta_b)

fig.savefig("out.png", dpi=200)
